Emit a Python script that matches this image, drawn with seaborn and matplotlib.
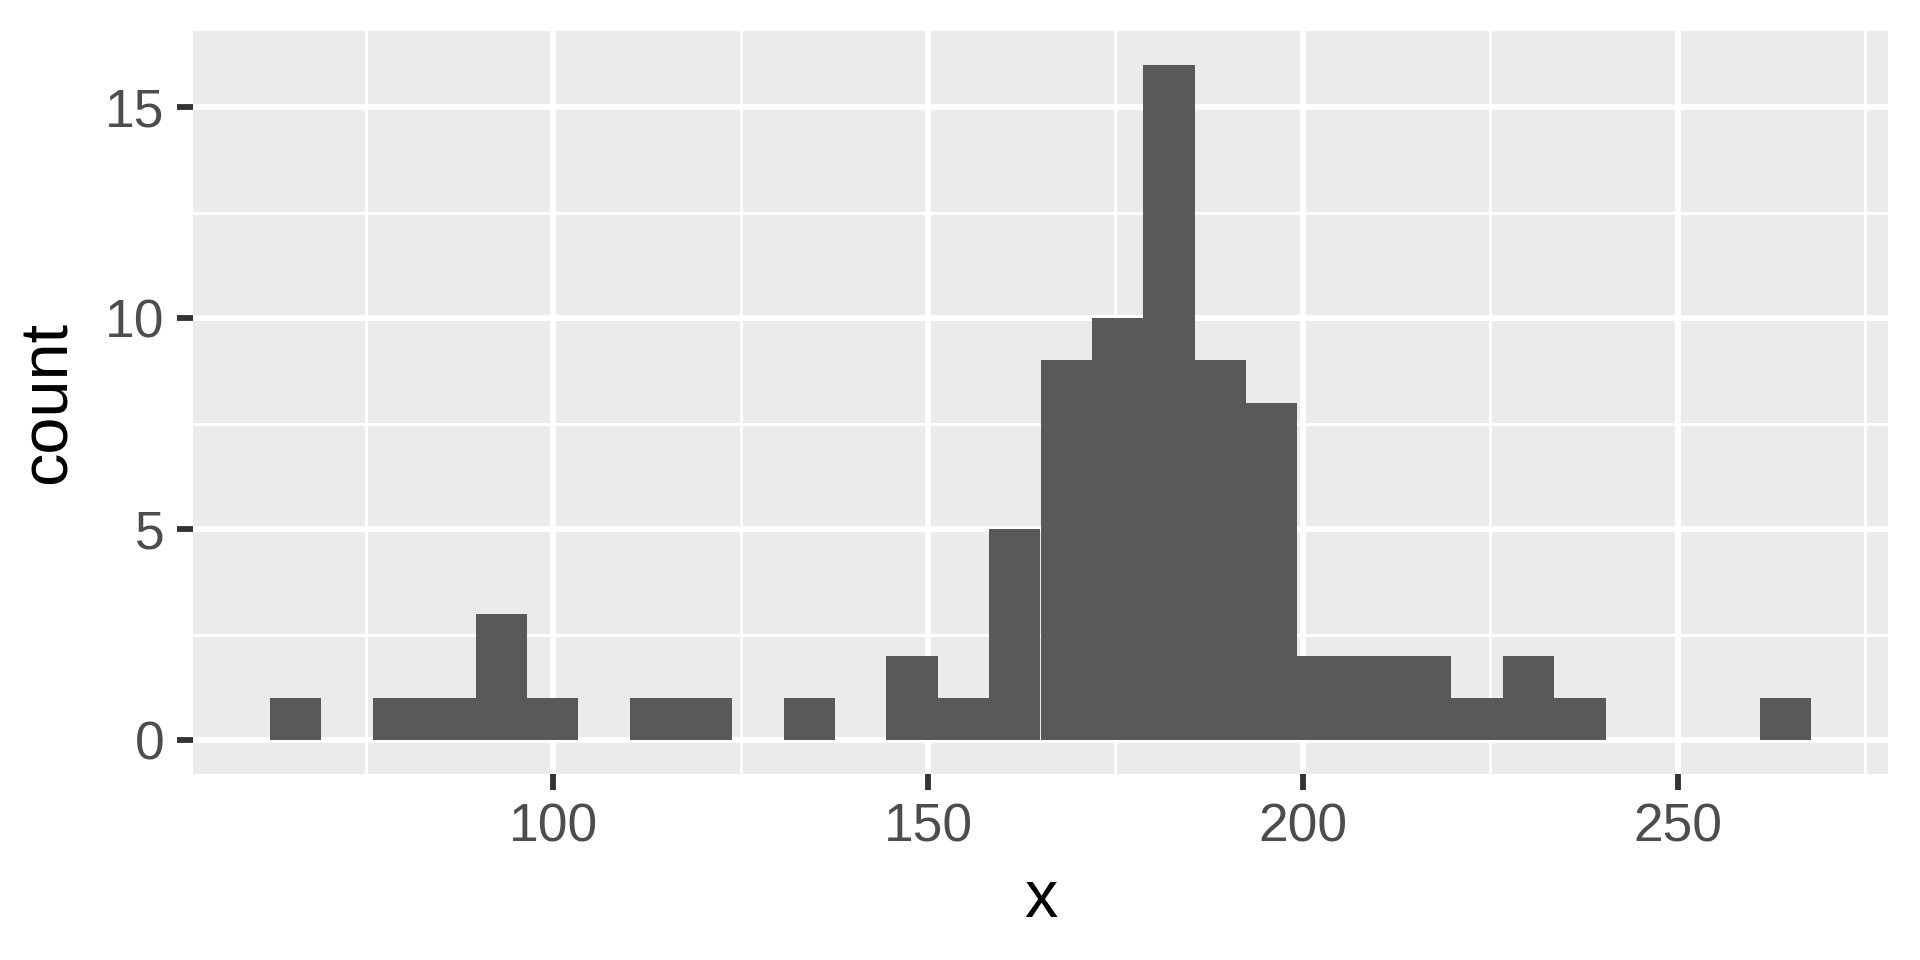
import numpy as np
import pandas as pd
import seaborn as sns
import matplotlib.pyplot as plt
from matplotlib.ticker import MultipleLocator

# histogram: 30 bins
bin_edges = [62.25, 69.1, 75.95, 82.8, 89.65, 96.5, 103.35, 110.2, 117.05, 123.9,
             130.75, 137.6, 144.45, 151.3, 158.15, 165.0, 171.85, 178.7, 185.55, 192.4,
             199.25, 206.1, 212.95, 219.8, 226.65, 233.5, 240.35, 247.2, 254.05, 260.9,
             267.75]
counts = [1, 0, 1, 1, 3, 1, 0, 1, 1, 0,
          1, 0, 2, 1, 5, 9, 10, 16, 9, 8,
          2, 2, 2, 1, 2, 1, 0, 0, 0, 1]
x_ticks = [100, 150, 200, 250]
y_ticks = [0, 5, 10, 15]

edges = np.array(bin_edges)
df = pd.DataFrame({"x": (edges[:-1] + edges[1:]) / 2, "n": counts})

sns.set_theme(style="darkgrid")
plt.rcParams["font.family"] = ["Liberation Sans", "DejaVu Sans"]

fig = plt.figure(figsize=(6.4, 3.2), dpi=300)
ax = fig.add_axes([193 / 1920, 1 - 774 / 960, (1888 - 193) / 1920, (774 - 31) / 960])
ax.set_facecolor("#EBEBEB")

sns.histplot(data=df, x="x", weights="n", bins=bin_edges, ax=ax,
             color="#595959", edgecolor="none", alpha=1, linewidth=0, zorder=3)

span = bin_edges[-1] - bin_edges[0]
ax.set_xlim(bin_edges[0] - 0.05 * span, bin_edges[-1] + 0.05 * span)
ax.set_ylim(-0.8, 16.8)
ax.set_xticks(x_ticks)
ax.set_yticks(y_ticks)
ax.xaxis.set_minor_locator(MultipleLocator(50, offset=25))
ax.yaxis.set_minor_locator(MultipleLocator(5, offset=2.5))

ax.grid(which="major", color="white", linewidth=1.4, zorder=1)
ax.grid(which="minor", color="white", linewidth=0.7, zorder=1)
ax.set_axisbelow(True)
for s in ax.spines.values():
    s.set_visible(False)

ax.tick_params(which="major", length=3.9, width=1.4, color="#333333",
               labelsize=12.8, labelcolor="#4D4D4D", pad=3)
ax.tick_params(which="minor", length=0)
ax.tick_params(axis="both", which="major", bottom=True, left=True)
ax.set_xlabel("x", fontsize=16, color="black", labelpad=4)
ax.set_ylabel("count", fontsize=16, color="black", labelpad=6)

fig.savefig("out.png", dpi=300, facecolor="white")
